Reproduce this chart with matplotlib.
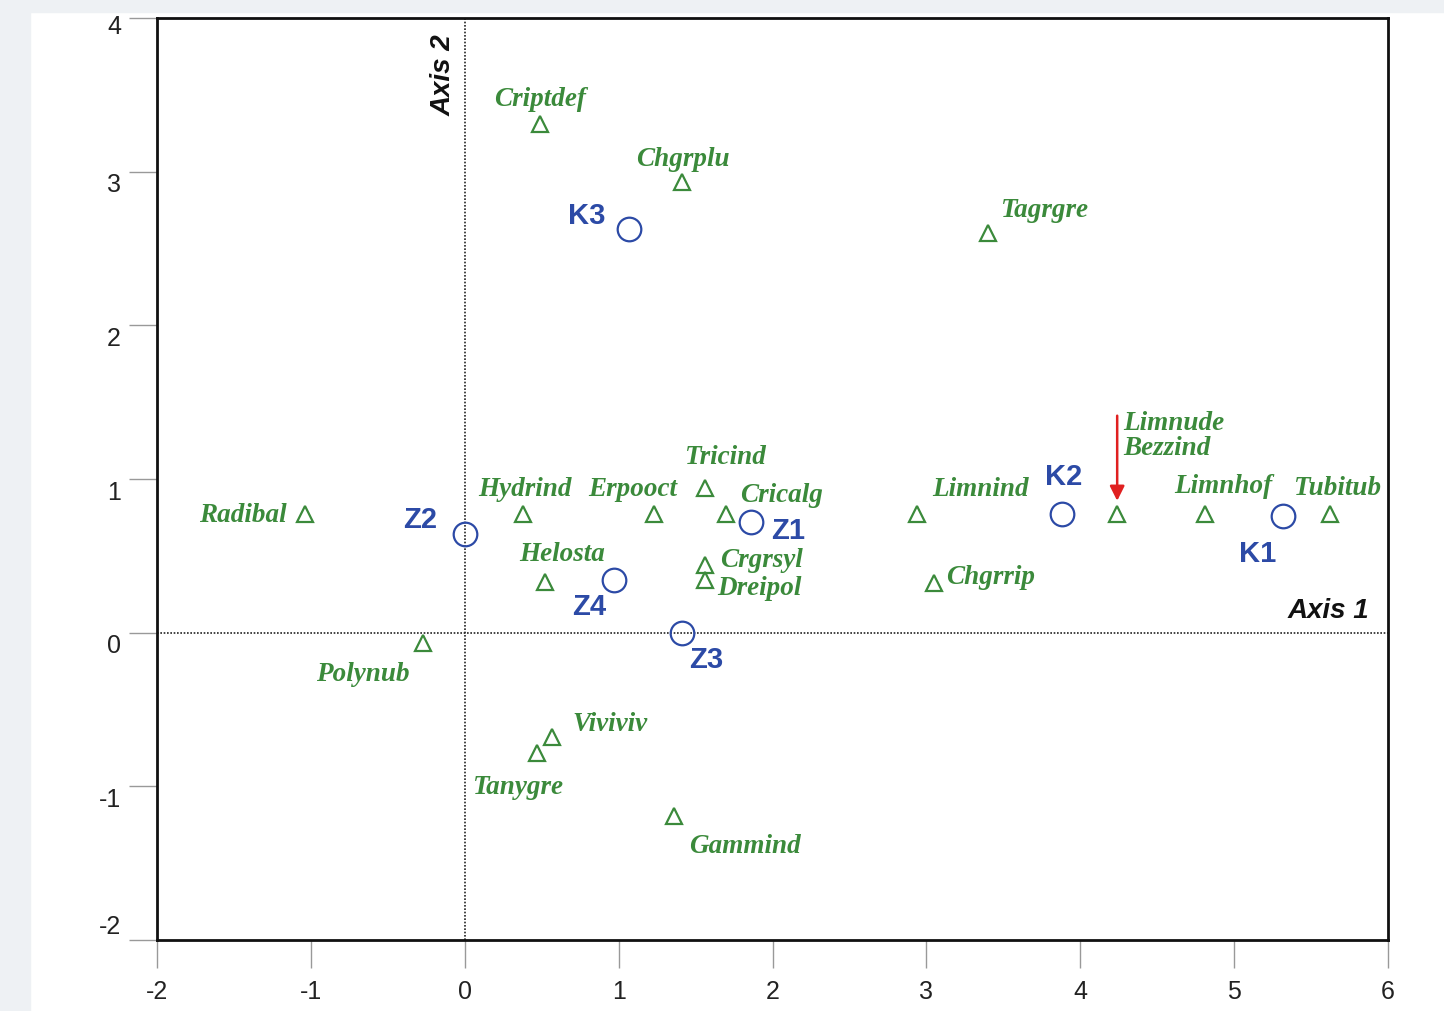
import matplotlib
matplotlib.use("Agg")
import matplotlib.pyplot as plt
from matplotlib.patches import Rectangle
from matplotlib.transforms import ScaledTranslation

# Species (triangles)
species = ["Criptdef", "Chgrplu", "Tagrgre", "Radibal", "Hydrind", "Erpooct", "Tricind",
           "Cricalg", "Crgrsyl", "Dreipol", "Helosta", "Limnind", "Chgrrip", "Limnude",
           "Limnhof", "Tubitub", "Polynub", "Viviviv", "Tanygre", "Gammind"]
sp_x = [0.49, 1.41, 3.40, -1.04, 0.38, 1.23, 1.56, 1.70, 1.56, 1.56, 0.52, 2.94, 3.05, 4.24,
        4.81, 5.62, -0.27, 0.57, 0.47, 1.36]
sp_y = [3.31, 2.93, 2.60, 0.77, 0.77, 0.77, 0.94, 0.77, 0.44, 0.34, 0.33, 0.77, 0.32, 0.77,
        0.77, 0.77, -0.07, -0.68, -0.78, -1.19]

# Sites (circles)
sites = ["K3", "Z2", "Z1", "Z4", "Z3", "K2", "K1"]
site_x = [1.07, 0.0, 1.86, 0.97, 1.41, 3.88, 5.32]
site_y = [2.63, 0.64, 0.72, 0.34, 0.0, 0.77, 0.76]

xticks = [-2, -1, 0, 1, 2, 3, 4, 5, 6]
yticks = [-2, -1, 0, 1, 2, 3, 4]

# label placement: (dx, dy, ha)
sp_lab = {
    "Criptdef": (0.0, 0.16, "center"), "Chgrplu": (0.01, 0.15, "center"),
    "Tagrgre": (0.08, 0.15, "left"), "Radibal": (-0.12, -0.01, "right"),
    "Hydrind": (0.01, 0.16, "center"), "Erpooct": (-0.14, 0.16, "center"),
    "Tricind": (0.13, 0.20, "center"), "Cricalg": (0.09, 0.12, "left"),
    "Crgrsyl": (0.10, 0.03, "left"), "Dreipol": (0.08, -0.05, "left"),
    "Helosta": (0.11, 0.18, "center"), "Limnind": (0.41, 0.16, "center"),
    "Chgrrip": (0.08, 0.04, "left"), "Limnude": (0.04, 0.51, "left"),
    "Limnhof": (0.12, 0.18, "center"), "Tubitub": (0.05, 0.17, "center"),
    "Polynub": (-0.39, -0.20, "center"), "Viviviv": (0.13, 0.08, "left"),
    "Tanygre": (-0.13, -0.23, "center"), "Gammind": (0.46, -0.20, "center"),
}
site_lab = {
    "K3": (-0.28, 0.08), "Z2": (-0.29, 0.09), "Z1": (0.24, -0.06), "Z4": (-0.16, -0.17),
    "Z3": (0.16, -0.18), "K2": (0.01, 0.24), "K1": (-0.17, -0.25),
}

green = "#3b8a3b"
blue = "#2c4aa6"

fig = plt.figure(figsize=(14.44, 10.11), dpi=100)
fig.patch.set_facecolor("white")
fig.patches.append(Rectangle((0, 0), 30/1444, 1, transform=fig.transFigure, color="#eef1f4", zorder=0))
fig.patches.append(Rectangle((0, 1-12/1011), 1, 12/1011, transform=fig.transFigure, color="#eef1f4", zorder=0))

ax = fig.add_axes([157/1444, 1-940/1011, (1388-157)/1444, (940-18)/1011])
ax.set_xlim(-2, 6)
ax.set_ylim(-2, 4)
ax.set_xticks(xticks)
ax.set_yticks(yticks)
ax.set_xticklabels([str(t) for t in xticks])
ax.set_yticklabels([str(t) for t in yticks])
for s in ax.spines.values():
    s.set_linewidth(2)
    s.set_color("#111111")
ax.tick_params(direction="out", length=20, width=1, color="#999999",
               labelsize=18, labelcolor="#222222")
ax.tick_params(axis="x", pad=9)
ax.tick_params(axis="y", pad=6)
for lab in ax.get_xticklabels() + ax.get_yticklabels():
    lab.set_family("Liberation Sans")
for t, lab in zip(yticks, ax.get_yticklabels()):
    if t == -2:
        dy = 11
    elif t == 4:
        dy = -5
    else:
        dy = -8
    lab.set_transform(lab.get_transform() + ScaledTranslation(0, dy/72, fig.dpi_scale_trans))

ax.axhline(0, color="#222222", linestyle=(0, (1, 1)), linewidth=1.2, zorder=1)
ax.axvline(0, color="#222222", linestyle=(0, (1, 1)), linewidth=1.2, zorder=1)

ax.plot(sp_x, sp_y, linestyle="none", marker="^", markersize=12, markerfacecolor="none",
        markeredgecolor=green, markeredgewidth=1.6, zorder=3)
ax.plot(site_x, site_y, linestyle="none", marker="o", markersize=17, markerfacecolor="none",
        markeredgecolor=blue, markeredgewidth=1.6, zorder=3)

for name, x, y in zip(species, sp_x, sp_y):
    dx, dy, ha = sp_lab[name]
    txt = name
    if name == "Limnude":
        txt = "Limnude\nBezzind"
    ax.text(x + dx, y + dy, txt, ha=ha, va="center", color=green, fontsize=19.5,
            family="Liberation Serif", style="italic", weight="bold", linespacing=1.0, zorder=4)

for name, x, y in zip(sites, site_x, site_y):
    dx, dy = site_lab[name]
    ax.text(x + dx, y + dy, name, ha="center", va="center", color=blue, fontsize=21,
            family="Liberation Sans", weight="bold", zorder=4)

# red arrow to Limnude/Bezzind
ax.annotate("", xy=(4.24, 0.84), xytext=(4.24, 1.43),
            arrowprops=dict(arrowstyle="-|>", color="#e02020", lw=1.8, mutation_scale=22), zorder=5)

ax.text(-0.14, 3.63, "Axis 2", rotation=90, ha="center", va="center", fontsize=20,
        family="Liberation Sans", style="italic", weight="bold", color="#111111")
ax.text(5.88, 0.14, "Axis 1", ha="right", va="center", fontsize=20,
        family="Liberation Sans", style="italic", weight="bold", color="#111111")

fig.savefig("out.png", dpi=100, facecolor=fig.get_facecolor())
